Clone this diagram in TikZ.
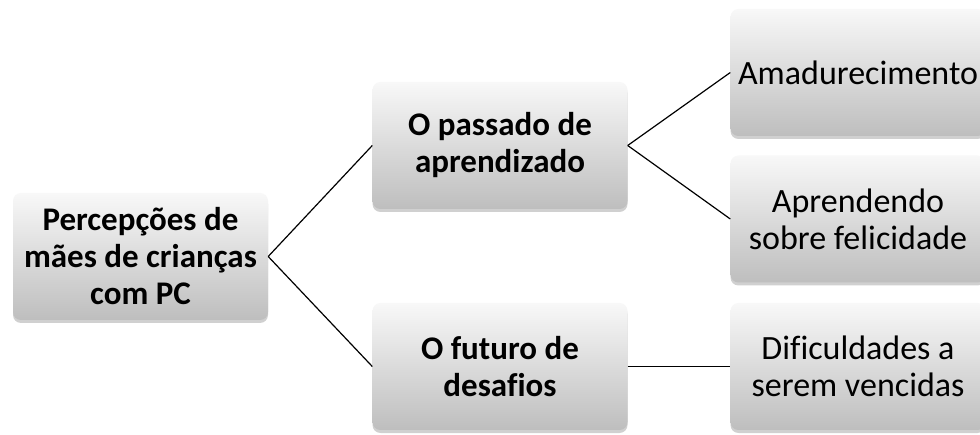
\documentclass[tikz,border=0pt]{standalone}
\usepackage{fontspec}
\setmainfont[Ligatures={NoCommon}]{Carlito}
\usetikzlibrary{shadows}
\definecolor{boxtop}{HTML}{F8F8F8}
\definecolor{boxbot}{HTML}{BEBEBE}
\tikzset{
  box/.style={rectangle, rounded corners=8pt, minimum width=255pt, minimum height=127pt,
    top color=boxtop, bottom color=boxbot, draw=none, align=center,
    font=\fontsize{34}{37}\selectfont, inner sep=0pt,
    drop shadow={shadow xshift=0pt, shadow yshift=-3pt, opacity=0.3, fill=black!60}},
  bbox/.style={box, font=\fontsize{33}{37}\selectfont\bfseries},
  link/.style={draw=black, line width=1.2pt}
}
\begin{document}
\begin{tikzpicture}[x=1pt,y=-1pt]
\useasboundingbox (0,0) rectangle (980,435);
\fill[white] (0,0) rectangle (980,435);
\node[bbox] (root) at (140.5,256.5) {Percepções de\\mães de crianças\\com PC};
\node[bbox] (pas) at (500,145.5) {O passado de\\aprendizado};
\node[bbox] (fut) at (500,366.5) {O futuro de\\desafios};
\node[box] (ama) at (858,72.5) {Amadurecimento};
\node[box] (apr) at (858,219) {Aprendendo\\sobre felicidade};
\node[box] (dif) at (858,366.5) {Dificuldades a\\serem vencidas};
\draw[link] (root.east) -- (pas.west);
\draw[link] (root.east) -- (fut.west);
\draw[link] (pas.east) -- (ama.west);
\draw[link] (pas.east) -- (apr.west);
\draw[link] (fut.east) -- (dif.west);
\end{tikzpicture}
\end{document}
